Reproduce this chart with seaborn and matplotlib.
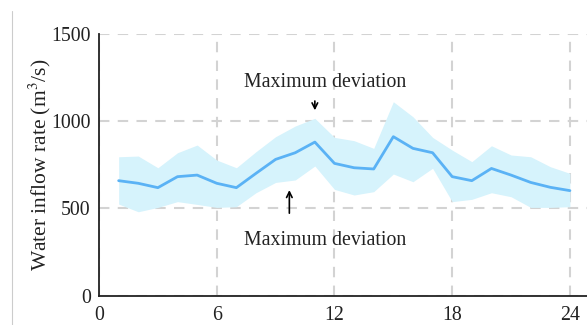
import matplotlib
matplotlib.use("Agg")
import matplotlib.pyplot as plt
import seaborn as sns
import pandas as pd
from matplotlib.lines import Line2D

hours = list(range(1, 25))
mean_flow = [658, 643, 618, 681, 690, 643, 618, 700, 780, 818, 879, 757,
             732, 725, 910, 843, 818, 681, 658, 728, 690, 648, 620, 601]
upper_flow = [795, 799, 732, 818, 862, 776, 732, 824, 910, 971, 1015, 906,
              887, 843, 1110, 1024, 906, 833, 767, 858, 805, 795, 738, 700]
lower_flow = [524, 480, 505, 538, 522, 505, 509, 589, 648, 662, 742, 608,
              576, 595, 696, 652, 729, 538, 551, 589, 566, 505, 505, 509]
x_ticks = [0, 6, 12, 18, 24]
y_ticks = [0, 500, 1000, 1500]

df = pd.DataFrame({"hour": hours, "flow": mean_flow,
                   "upper": upper_flow, "lower": lower_flow})

sns.set_style("white")
plt.rcParams["font.family"] = ["Liberation Serif", "DejaVu Serif"]
plt.rcParams["mathtext.fontset"] = "stix"

fig = plt.figure(figsize=(5.87, 3.25), dpi=100)
ax = fig.add_axes([0.1687, 0.0905, 0.8313, 0.806])

ax.fill_between(df["hour"], df["lower"], df["upper"], color="#d6f3fc", lw=0, zorder=1)
sns.lineplot(data=df, x="hour", y="flow", ax=ax, color="#5ab2f5", lw=2, zorder=3)

ax.set_xlim(0, 24.87)
ax.set_ylim(0, 1500)
ax.set_xticks(x_ticks)
ax.set_yticks(y_ticks)
ax.grid(True, color="#d3d3d3", linestyle=(0, (5, 4)), lw=1.5, zorder=0)
ax.set_axisbelow(True)
for s in ["top", "right"]:
    ax.spines[s].set_visible(False)
for s in ["left", "bottom"]:
    ax.spines[s].set_color("#222222")
    ax.spines[s].set_linewidth(1.3)
ax.tick_params(direction="in", length=4, width=1.3, labelsize=14.3, colors="#222222")
ax.tick_params(axis="x", pad=7.5)
ax.tick_params(axis="y", pad=6)
ax.set_xlabel("")
ax.set_ylabel("Water inflow rate (m$^3$/s)", fontsize=15.5, color="#222222", labelpad=-1)

ax.annotate("", xy=(11, 1045), xytext=(11, 1130),
            arrowprops=dict(arrowstyle="->", color="black", lw=1.2))
ax.text(11.5, 1222, "Maximum deviation", ha="center", va="center", fontsize=14.3, color="#222222")
ax.annotate("", xy=(9.7, 620), xytext=(9.7, 456),
            arrowprops=dict(arrowstyle="->", color="black", lw=1.2))
ax.text(11.5, 318, "Maximum deviation", ha="center", va="center", fontsize=14.3, color="#222222")

fig.add_artist(Line2D([12/587, 12/587], [0, 0.965], transform=fig.transFigure,
                      color="#cccccc", lw=0.8))

fig.savefig("out.png", dpi=100)
